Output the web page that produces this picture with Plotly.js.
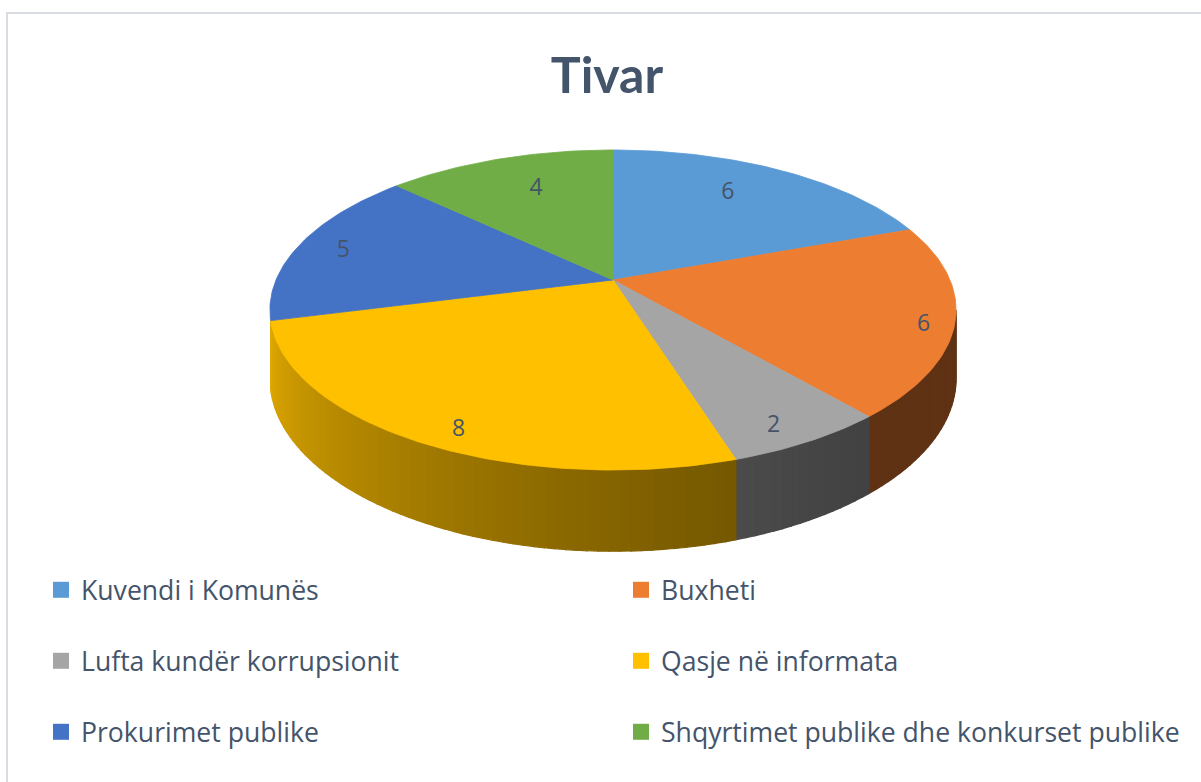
<!DOCTYPE html>
<html><head><meta charset="utf-8">
<script src="https://cdn.plot.ly/plotly-3.0.1.min.js"></script>
<style>html,body{margin:0;padding:0;background:#fff}#chart{width:1201px;height:782px}</style>
</head><body><div id="chart"></div>
<script>
// ---- data ----
const categories = ['Kuvendi i Komunës','Buxheti','Lufta kundër korrupsionit','Qasje në informata','Prokurimet publike','Shqyrtimet publike dhe konkurset publike'];
const values = [6, 6, 2, 8, 5, 4];
const title = 'Tivar';

// ---- style ----
const colors = ['#5B9BD5','#ED7D31','#A5A5A5','#FFC000','#4472C4','#70AD47'];
const labelRadius = [0.72, 0.9, 0.85, 0.85, 0.85, 0.68];
const labelDx = [-10, 4, -1, 7, -3, 4];
const labelDy = [-5, 9, 13, 17, 3, -4];
const textColor = '#44546A';
const FONT = 'Lato, "Open Sans", sans-serif';
const LEGFONT = '"Open Sans", Lato, sans-serif';

// ---- 3D projection of a tilted disc ----
const CX = 613, CY = 280, R = 337, A = 154.4, K = 0.1875, T = 66;
function proj(r, th, drop) {
  const u = r * Math.sin(th), v = r * Math.cos(th);
  const f = 1 / (1 + K * v);
  return [CX + R * u * f, CY - A * v * f + (drop || 0) * f];
}
function hexToRgb(h){h=h.replace('#','');return [parseInt(h.substr(0,2),16),parseInt(h.substr(2,2),16),parseInt(h.substr(4,2),16)];}
function shadeColor(h, s){const c=hexToRgb(h);return 'rgb('+c.map(x=>Math.round(Math.min(255,x*s))).join(',')+')';}
function sideShade(deg){
  const t = Math.max(0, Math.min(1, (deg - 140) / 115));
  return 0.40 + 0.47 * Math.pow(t, 1.3);
}

const total = values.reduce((a,b)=>a+b,0);
const starts = [], ends = [];
let acc = 0;
values.forEach(v => { starts.push(acc / total * 360); acc += v; ends.push(acc / total * 360); });

const traces = [];
const visA = Math.acos(-K) * 180 / Math.PI, visB = 360 - visA;
// side walls
values.forEach((v, i) => {
  const a = Math.max(starts[i], visA), b = Math.min(ends[i], visB);
  if (b - a < 5) return;
  const n = Math.max(1, Math.ceil((b - a) / 1.5));
  for (let j = 0; j < n; j++) {
    const d0 = a + (b - a) * j / n, d1 = a + (b - a) * (j + 1) / n;
    const t0 = d0 * Math.PI / 180, t1 = d1 * Math.PI / 180;
    const p = [proj(1,t0), proj(1,t1), proj(1,t1,T), proj(1,t0,T)];
    const col = shadeColor(colors[i], sideShade((d0 + d1) / 2));
    traces.push({type:'scatter', mode:'lines', x:p.map(q=>q[0]).concat([p[0][0]]), y:p.map(q=>q[1]).concat([p[0][1]]),
      fill:'toself', fillcolor:col, line:{color:col, width:1.2}, hoverinfo:'skip', showlegend:false});
  }
});
// top faces
values.forEach((v, i) => {
  const xs = [CX], ys = [CY];
  const n = Math.max(2, Math.ceil((ends[i] - starts[i]) / 1));
  for (let j = 0; j <= n; j++) {
    const d = starts[i] + (ends[i] - starts[i]) * j / n;
    const p = proj(1, d * Math.PI / 180);
    xs.push(p[0]); ys.push(p[1]);
  }
  xs.push(CX); ys.push(CY);
  traces.push({type:'scatter', mode:'lines', x:xs, y:ys, fill:'toself', fillcolor:colors[i],
    line:{color:colors[i], width:0.8}, hoverinfo:'skip', showlegend:false, name:categories[i]});
});
// data labels
const lx = [], ly = [];
values.forEach((v, i) => {
  const p = proj(labelRadius[i], (starts[i] + ends[i]) / 2 * Math.PI / 180);
  lx.push(p[0] + labelDx[i]); ly.push(p[1] + labelDy[i]);
});
traces.push({type:'scatter', mode:'text', x:lx, y:ly, text:values.map(String), textposition:'middle center',
  textfont:{size:23, color:textColor, family:LEGFONT}, hoverinfo:'skip', showlegend:false});
// legend entries (3 rows, 2 columns)
const legendIds = ['legend','legend','legend2','legend2','legend3','legend3'];
categories.forEach((c, i) => {
  traces.push({type:'scatter', mode:'markers', x:[null], y:[null], name:c, legend:legendIds[i],
    marker:{symbol:'square', size:17, color:colors[i]}, hoverinfo:'skip', showlegend:true});
});

const rowsY = [590, 661, 732];
function legendAt(row){
  return {orientation:'h', x:49/1201, xanchor:'left', y:1 - rowsY[row]/782, yanchor:'middle',
    entrywidth:535, entrywidthmode:'pixels', font:{family:LEGFONT, size:26.6, color:textColor},
    bgcolor:'rgba(0,0,0,0)', itemclick:false, itemdoubleclick:false, traceorder:'normal'};
}

const layout = {
  width:1201, height:782, margin:{l:0,r:0,t:0,b:0}, paper_bgcolor:'#fff', plot_bgcolor:'#fff',
  title:{text:'<b>'+title+'</b>', x:607/1201, xanchor:'center', y:1-75/782, yanchor:'middle',
    font:{family:FONT, size:50, color:textColor}},
  xaxis:{range:[0,1201], visible:false, fixedrange:true},
  yaxis:{range:[782,0], visible:false, fixedrange:true},
  legend:legendAt(0), legend2:legendAt(1), legend3:legendAt(2),
  shapes:[{type:'rect', xref:'paper', yref:'paper', x0:7/1201, x1:1.05, y0:-0.05, y1:1-13/782,
    line:{color:'#D9DDE3', width:2}, fillcolor:'rgba(0,0,0,0)', layer:'below'}],
  showlegend:true, hovermode:false
};
Plotly.newPlot('chart', traces, layout, {displayModeBar:false, staticPlot:true});
</script></body></html>
